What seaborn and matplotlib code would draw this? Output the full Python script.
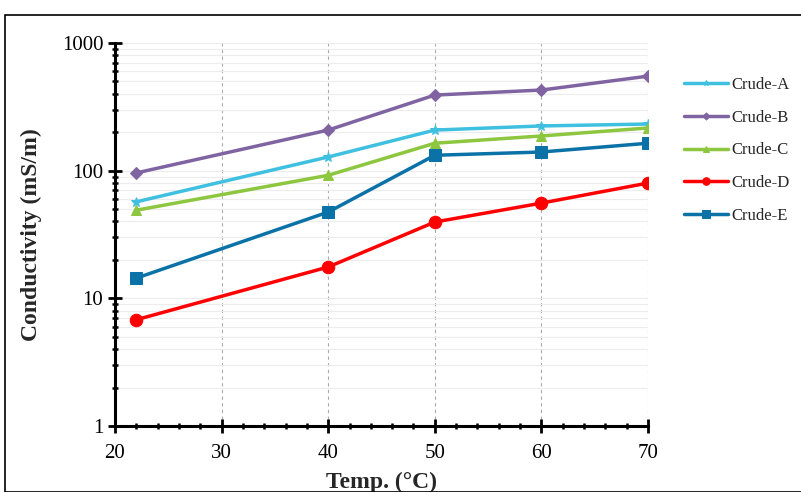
import matplotlib
matplotlib.use("Agg")
import matplotlib.pyplot as plt
import seaborn as sns
import pandas as pd
import numpy as np
from matplotlib.ticker import LogLocator, MultipleLocator, FixedLocator
from matplotlib.patches import Rectangle

temps = [22, 40, 50, 60, 70]
series_names = ["Crude-A", "Crude-B", "Crude-C", "Crude-D", "Crude-E"]
crude_a = [57, 128, 208, 224, 232]
crude_b = [96, 208, 391, 428, 550]
crude_c = [49, 92, 164, 187, 216]
crude_d = [6.8, 17.6, 39.6, 55.7, 80]
crude_e = [14.4, 47.4, 132, 140, 164]
x_ticks = [20, 30, 40, 50, 60, 70]
y_ticks = [1, 10, 100, 1000]

colors = ["#3fc0e0", "#8064a2", "#8dc63f", "#ff0000", "#0b72a8"]
markers = ["*", "D", "^", "o", "s"]
msizes = [7, 6, 7, 9, 9]

rows = []
for name, vals in zip(series_names, [crude_a, crude_b, crude_c, crude_d, crude_e]):
    for t, v in zip(temps, vals):
        rows.append({"Temp": t, "Cond": v, "Series": name})
df = pd.DataFrame(rows)

sns.set_theme(style="white")
plt.rcParams['font.family'] = ['Liberation Serif', 'DejaVu Serif']

fig = plt.figure(figsize=(8.01, 4.92), dpi=100)
ax = fig.add_axes([115/801, 1-426/492, (648-115)/801, (426-43)/492])

for name, c, m, ms in zip(series_names, colors, markers, msizes):
    sub = df[df["Series"] == name]
    sns.lineplot(data=sub, x="Temp", y="Cond", ax=ax, color=c, marker=m,
                 markersize=ms, markeredgecolor=c, linewidth=2.5, label=name)

ax.set_yscale("log")
ax.set_xlim(20, 70)
ax.set_ylim(1, 1000)
ax.xaxis.set_major_locator(FixedLocator(x_ticks))
ax.xaxis.set_minor_locator(MultipleLocator(2))
ax.yaxis.set_major_locator(FixedLocator(y_ticks))
ax.yaxis.set_minor_locator(LogLocator(base=10, subs=np.arange(2, 10)))
ax.set_yticklabels([str(v) for v in y_ticks])
ax.set_xticklabels([str(v) for v in x_ticks])
ax.yaxis.set_minor_formatter(plt.NullFormatter())

ax.grid(True, which="major", axis="x", color="#aaaaaa", linestyle=(0, (3, 3)), linewidth=0.8)
ax.grid(True, which="minor", axis="y", color="#ececec", linestyle="-", linewidth=0.8)
ax.grid(True, which="major", axis="y", color="#ececec", linestyle="-", linewidth=0.8)

for s in ["top", "right"]:
    ax.spines[s].set_visible(False)
for s in ["left", "bottom"]:
    ax.spines[s].set_color("black")
    ax.spines[s].set_linewidth(2.2)

ax.tick_params(axis="both", which="major", direction="inout", length=10, width=2,
               labelsize=15, colors="black", bottom=True, left=True)
ax.tick_params(axis="both", which="minor", direction="inout", length=5, width=1.8,
               colors="black", bottom=True, left=True)
ax.tick_params(axis="x", pad=8)

ax.set_xlabel("Temp. (°C)", fontsize=17, fontweight="bold", labelpad=6)
ax.set_ylabel("Conductivity (mS/m)", fontsize=17, fontweight="bold", labelpad=14)

leg = ax.legend(loc="upper left", bbox_to_anchor=(1.04, 0.95), frameon=False,
                fontsize=12, handlelength=2.6, labelspacing=1.0, handletextpad=0.2,
                markerscale=0.6)

fig.patches.append(Rectangle((5/801, 0), 1, 1-15/492, transform=fig.transFigure,
                             fill=False, edgecolor="black", linewidth=1.2))

fig.savefig("out.png", dpi=100)
